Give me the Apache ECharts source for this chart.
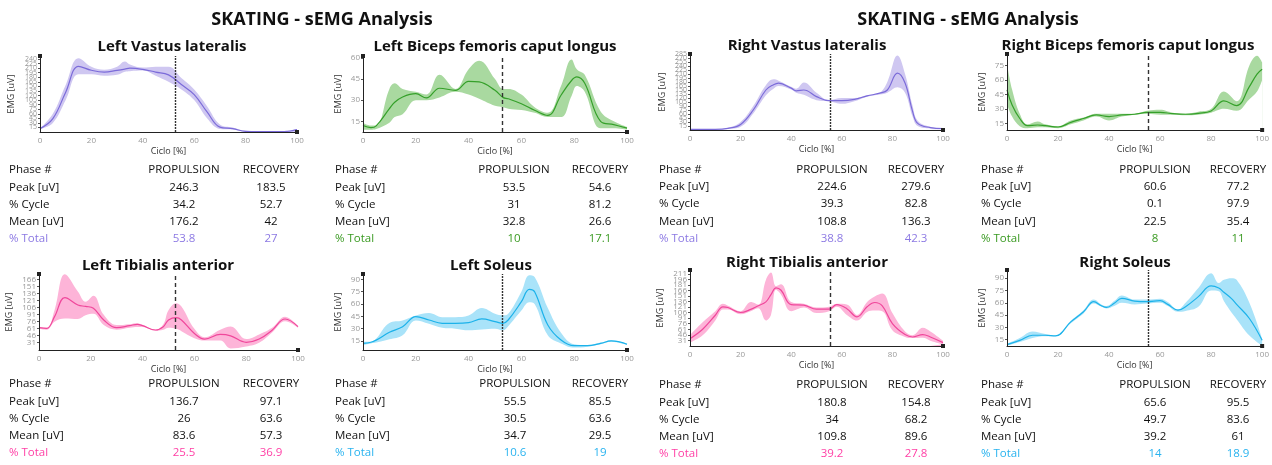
<!DOCTYPE html>
<html>
<head>
<meta charset="utf-8">
<title>SKATING - sEMG Analysis</title>
<script src="https://cdn.jsdelivr.net/npm/echarts@6/dist/echarts.min.js"></script>
<style>
  html, body { margin: 0; padding: 0; background: #fff; }
  #chart { width: 1272px; height: 465px; }
</style>
</head>
<body>
<div id="chart"></div>
<script>
// ---------- data ----------
const rowNames = ['Peak [uV]', '% Cycle', 'Mean [uV]', '% Total'];
const colNames = ['PROPULSION', 'RECOVERY'];
const muscleNames = ['Left Vastus lateralis', 'Left Biceps femoris caput longus', 'Right Vastus lateralis', 'Right Biceps femoris caput longus',
                     'Left Tibialis anterior', 'Left Soleus', 'Right Tibialis anterior', 'Right Soleus'];
const phaseSplit = [52.7, 52.7, 55.5, 55.5, 52.7, 52.7, 55.5, 55.5];

// Left Vastus lateralis
const lvlX    = [0, 5, 10, 15, 20, 25, 30, 33, 35, 40, 45, 50, 55, 60, 65, 70, 75, 80, 85, 90, 95, 100];
const lvlMean = [11, 44, 131, 216, 203, 197, 203, 207, 210, 206, 197, 188, 156, 123, 66, 16, 11, 2, 1, 1, 1, 8];
const lvlLo   = [10, 30, 105, 190, 190, 185, 188, 198, 200, 202, 185, 165, 140, 105, 45, 10, 8, 1, 0.5, 0.5, 0.5, 6];
const lvlHi   = [12, 60, 155, 243, 215, 205, 215, 232, 222, 212, 215, 215, 178, 140, 85, 25, 15, 4, 2, 2, 2, 10];
const lvlTicks = [15, 30, 45, 60, 75, 90, 105, 120, 135, 150, 165, 180, 195, 210, 225, 240];
const lvlStats = [[246.3, 183.5], [34.2, 52.7], [176.2, 42], [53.8, 27]];

// Left Biceps femoris caput longus
const lbfX    = [0, 3, 5, 10, 12, 15, 20, 24, 29, 35, 40, 44, 50, 53, 55, 60, 65, 70, 75, 79, 81, 84, 90, 95, 100];
const lbfMean = [12, 10.5, 11.7, 24, 28.5, 32.3, 34.6, 31.6, 38.5, 37, 43.4, 43, 37, 32, 31, 27.5, 22.8, 19.2, 33.5, 44, 46.5, 42, 15, 12.6, 10.2];
const lbfLo   = [9, 9, 9.5, 14, 18, 20, 30, 30, 32, 36, 34, 31, 26, 25, 24, 23, 21, 18, 18, 33, 40, 36, 10, 10, 9];
const lbfHi   = [14, 12, 12, 38, 42, 38, 36, 34, 48, 38, 52, 58, 45, 38, 38, 34, 25, 21, 40, 59, 52, 48, 22, 15, 11];
const lbfTicks = [15, 30, 45, 60];
const lbfStats = [[53.5, 54.6], [31, 81.2], [32.8, 26.6], [10, 17.1]];

// Right Vastus lateralis
const rvlX    = [0, 10, 15, 20, 25, 30, 33, 35, 40, 42, 45, 50, 55, 60, 65, 70, 75, 78, 82, 85, 88, 90, 95, 100];
const rvlMean = [2.5, 2.5, 6, 21, 75, 150, 170, 176, 157, 147, 150, 125, 110, 110, 115, 128, 138, 150, 213, 176, 69, 25, 9, 5];
const rvlLo   = [2, 2, 4, 12, 62, 130, 155, 165, 152, 140, 132, 112, 108, 98, 108, 125, 133, 140, 160, 140, 50, 15, 6, 4];
const rvlHi   = [3, 3, 8, 30, 90, 168, 190, 185, 162, 155, 178, 140, 112, 120, 120, 130, 140, 180, 279, 210, 90, 35, 12, 5];
const rvlTicks = [15, 30, 45, 60, 75, 90, 105, 120, 135, 150, 165, 180, 195, 210, 225, 240, 255, 270, 285];
const rvlStats = [[224.6, 279.6], [39.3, 82.8], [108.8, 136.3], [38.8, 42.3]];

// Right Biceps femoris caput longus
const rbfX    = [0, 2, 5, 8, 12, 15, 20, 25, 30, 35, 40, 45, 50, 55, 60, 65, 70, 75, 80, 85, 90, 95, 98, 100];
const rbfMean = [49.7, 34, 20, 12.6, 13.3, 12.6, 11.2, 16, 20, 23.7, 22, 23.7, 24.4, 26.4, 26.4, 25, 24.4, 25.4, 27.8, 38.2, 33.4, 53, 66, 71];
const rbfLo   = [35, 22, 12, 10, 11, 11, 10, 14, 18, 22, 18, 22, 24, 25, 24, 24, 23.5, 24, 26, 30, 28, 40, 48, 60];
const rbfHi   = [77, 50, 25, 14, 17, 14, 12, 18, 21, 25, 25, 25, 25, 28, 29, 26, 25, 27, 30, 48, 38, 75, 85, 78];
const rbfTicks = [15, 30, 45, 60, 75];
const rbfStats = [[60.6, 77.2], [0.1, 97.9], [22.5, 35.4], [8, 11]];

// Left Tibialis anterior
const ltaX    = [0, 3, 6, 10, 15, 18, 21, 25, 30, 35, 38, 40, 45, 48, 50, 53, 55, 60, 64, 70, 74, 80, 85, 90, 95, 100];
const ltaMean = [62.4, 61, 86, 126.7, 111, 108, 104, 78.9, 62.4, 66.7, 69.6, 66.7, 57.4, 64.6, 78.9, 84, 79, 50, 38, 48, 45, 31, 38, 57, 81, 64.6];
const ltaLo   = [60, 58, 75, 82, 81, 89, 92, 68, 58, 62, 64, 64, 56, 58, 62, 60, 55, 40, 35, 35, 18, 22, 30, 52, 76, 62];
const ltaHi   = [64, 62, 100, 177, 140, 118, 131, 90, 68, 70, 72, 68, 58, 70, 100, 115, 108, 60, 42, 58, 65, 38, 48, 62, 86, 66];
const ltaTicks = [31, 46, 61, 76, 91, 106, 121, 136, 151, 166];
const ltaStats = [[136.7, 97.1], [26, 63.6], [83.6, 57.3], [25.5, 36.9]];

// Left Soleus
const lsoX    = [0, 3, 5, 10, 15, 20, 25, 30, 35, 40, 45, 50, 53, 55, 60, 63, 65, 70, 75, 80, 85, 90, 94, 100];
const lsoMean = [12, 13.4, 16, 25.5, 32.4, 44.6, 40.5, 36.5, 36.5, 37.3, 41.8, 38.5, 36.5, 40.5, 62.8, 77.8, 75, 34.5, 16.2, 9.3, 9.3, 12, 15, 11];
const lsoLo   = [10, 12, 13, 17, 22, 40, 36, 31, 30, 28, 29, 30, 28, 33, 52, 62, 60, 22, 12, 7, 8, 11, 14, 10];
const lsoHi   = [14, 14, 18, 37, 40, 46, 49, 44, 44, 46, 55, 48, 46, 48, 75, 95, 93, 55, 25, 11, 10, 13, 16, 12];
const lsoTicks = [15, 30, 45, 60, 75, 90];
const lsoStats = [[55.5, 85.5], [30.5, 63.6], [34.7, 29.5], [10.6, 19]];

// Right Tibialis anterior
const rtaX    = [0, 5, 10, 13, 15, 20, 24, 27, 30, 32, 34, 36, 40, 45, 50, 55, 58, 62, 66, 70, 73, 76, 80, 85, 88, 92, 95, 100];
const rtaMean = [35.5, 61, 99, 122, 120, 106.5, 115, 125, 135.5, 155, 173.7, 167, 128, 126.5, 115.5, 115.5, 128, 117, 94.6, 122, 133.7, 124.6, 76.5, 46.5, 40, 46.5, 40, 24.6];
const rtaLo   = [25, 45, 85, 115, 115, 102, 110, 118, 85, 100, 168, 155, 110, 120, 105, 110, 122, 100, 85, 108, 112, 110, 58, 40, 37, 38, 30, 20];
const rtaHi   = [45, 80, 110, 130, 125, 110, 135, 128, 195, 215, 178, 183, 135, 130, 120, 122, 130, 128, 100, 135, 150, 158, 105, 55, 45, 65, 55, 30];
const rtaTicks = [31, 46, 61, 76, 91, 106, 121, 136, 151, 166, 181, 196, 211];
const rtaStats = [[180.8, 154.8], [34, 68.2], [109.8, 89.6], [39.2, 27.8]];

// Right Soleus
const rsoX    = [0, 5, 10, 15, 19, 25, 30, 34, 37, 39, 42, 45, 50, 55, 60, 63, 67, 70, 75, 80, 83, 85, 88, 90, 95, 100];
const rsoMean = [8.8, 14, 20.3, 20.3, 19.5, 36.7, 49, 61.3, 56.4, 54.3, 59.3, 65.4, 62, 61.3, 62.5, 58, 51, 55.2, 67.5, 80.6, 78, 72.8, 65, 58, 40.8, 14.2];
const rsoLo   = [7.5, 12, 17, 19, 19, 35, 47, 59, 55, 53, 56, 60, 58, 59, 60, 56, 49, 50, 55, 75, 74, 62, 48, 40, 20, 7.5];
const rsoHi   = [10, 17, 25, 22, 20, 38, 51, 64, 58, 56, 62, 69, 64, 64, 65, 61, 52, 60, 78, 96, 84, 88, 90, 88, 60, 16];
const rsoTicks = [15, 30, 45, 60, 75, 90];
const rsoStats = [[65.6, 95.5], [49.7, 83.6], [39.2, 61], [14, 18.9]];

// ---------- layout / style ----------
const purple = { line: '#7b6bd9', band: '#cfc7f1', text: '#8c79e3' };
const green  = { line: '#35a02a', band: '#a9d9a0', text: '#3a9a22' };
const pink   = { line: '#f0479b', band: '#fdb4d8', text: '#ff3fa5' };
const blue   = { line: '#1cb2ea', band: '#a9e3f9', text: '#29b3ef' };

const panels = [
  { x: lvlX, mean: lvlMean, lo: lvlLo, hi: lvlHi, ticks: lvlTicks, stats: lvlStats, c: purple, dash: 'dotted',
    grid: [40, 56, 257, 76], yMin: 0, yMax: 250, nameGap: 24, tickFont: 7, titleX: 172, titleY: 47,
    table: { y: 170, x0: 9, x1: 184, x2: 271 } },
  { x: lbfX, mean: lbfMean, lo: lbfLo, hi: lbfHi, ticks: lbfTicks, stats: lbfStats, c: green, dash: 'dashed',
    grid: [363, 56, 264, 76], yMin: 7.4, yMax: 61.4, nameGap: 20, tickFont: 8, titleX: 495, titleY: 47,
    table: { y: 170, x0: 335, x1: 514, x2: 600 } },
  { x: rvlX, mean: rvlMean, lo: rvlLo, hi: rvlHi, ticks: rvlTicks, stats: rvlStats, c: purple, dash: 'dotted',
    grid: [690, 54, 253, 76], yMin: 0, yMax: 285, nameGap: 23, tickFont: 7, titleX: 807, titleY: 46,
    table: { y: 169.5, x0: 659, x1: 832, x2: 916 } },
  { x: rbfX, mean: rbfMean, lo: rbfLo, hi: rbfHi, ticks: rbfTicks, stats: rbfStats, c: green, dash: 'dashed',
    grid: [1007, 54, 257, 76], yMin: 8.1, yMax: 86.8, nameGap: 20, tickFont: 8, titleX: 1128, titleY: 46,
    table: { y: 169.5, x0: 981, x1: 1155, x2: 1238 } },
  { x: ltaX, mean: ltaMean, lo: ltaLo, hi: ltaHi, ticks: ltaTicks, stats: ltaStats, c: pink, dash: 'dashed',
    grid: [39, 274, 259, 76], yMin: 14.6, yMax: 177.4, nameGap: 25, tickFont: 8, titleX: 158, titleY: 266,
    table: { y: 384, x0: 9, x1: 184, x2: 271 } },
  { x: lsoX, mean: lsoMean, lo: lsoLo, hi: lsoHi, ticks: lsoTicks, stats: lsoStats, c: blue, dash: 'dotted',
    grid: [363, 274, 264, 76], yMin: 4, yMax: 96.5, nameGap: 20, tickFont: 8, titleX: 491, titleY: 266,
    table: { y: 384, x0: 335, x1: 515, x2: 600 } },
  { x: rtaX, mean: rtaMean, lo: rtaLo, hi: rtaHi, ticks: rtaTicks, stats: rtaStats, c: pink, dash: 'dashed',
    grid: [690, 270, 253, 76], yMin: 15.5, yMax: 222, nameGap: 25, tickFont: 8, titleX: 807, titleY: 263,
    table: { y: 385, x0: 659, x1: 832, x2: 916 } },
  { x: rsoX, mean: rsoMean, lo: rsoLo, hi: rsoHi, ticks: rsoTicks, stats: rsoStats, c: blue, dash: 'dotted',
    grid: [1007, 270, 258, 76], yMin: 7.2, yMax: 100, nameGap: 20, tickFont: 8, titleX: 1125, titleY: 263,
    table: { y: 385, x0: 981, x1: 1155, x2: 1238 } }
];

const FONT = '"Open Sans", "Noto Sans", sans-serif';
const grids = [], xAxes = [], yAxes = [], series = [], texts = [];

function txt(s, x, y, font, fill, align) {
  texts.push({ type: 'text', x: x, y: y, silent: true,
    style: { text: s, font: font, fill: fill, textAlign: align || 'left', textVerticalAlign: 'middle' } });
}

panels.forEach(function (p, i) {
  grids.push({ left: p.grid[0], top: p.grid[1], width: p.grid[2], height: p.grid[3] });
  xAxes.push({
    type: 'value', gridIndex: i, min: 0, max: 100, interval: 20, z: 5,
    name: 'Ciclo [%]', nameLocation: 'middle', nameGap: 15,
    nameTextStyle: { color: '#333', fontSize: 9, fontFamily: FONT },
    axisLine: { lineStyle: { color: '#222', width: 1 }, symbol: ['none', 'rect'], symbolSize: [4, 4] },
    axisTick: { show: false },
    axisLabel: { color: '#999', fontSize: 8, margin: 5, fontFamily: FONT },
    splitLine: { show: false }
  });
  // the axis min / max get a label slot that is then dropped (showMin/MaxLabel false),
  // so that ECharts keeps every crowded tick label like the original does
  const labelVals = [p.yMin].concat(p.ticks, [p.yMax]);
  yAxes.push({
    type: 'value', gridIndex: i, min: p.yMin, max: p.yMax, z: 5,
    name: 'EMG [uV]', nameLocation: 'middle', nameGap: p.nameGap,
    nameTextStyle: { color: '#333', fontSize: 9, fontFamily: FONT },
    axisLine: { show: true, lineStyle: { color: '#222', width: 1 }, symbol: ['none', 'rect'], symbolSize: [4, 4] },
    axisTick: { show: true, length: 2, customValues: p.ticks, lineStyle: { color: '#555' } },
    axisLabel: { customValues: labelVals, hideOverlap: false, showMinLabel: false, showMaxLabel: false,
                 color: '#999', fontSize: p.tickFont, margin: 3, fontFamily: FONT },
    splitLine: { show: false }
  });

  const lo = p.x.map(function (x, k) { return [x, p.lo[k]]; });
  const hi = p.x.map(function (x, k) { return [x, p.hi[k]]; });
  const mean = p.x.map(function (x, k) { return [x, p.mean[k]]; });

  // band = upper area filled, then lower area masked with white
  series.push({
    type: 'line', xAxisIndex: i, yAxisIndex: i, data: hi,
    smooth: 0.4, symbol: 'none', lineStyle: { opacity: 0 },
    areaStyle: { color: p.c.band, opacity: 1, origin: 'start' }, silent: true, z: 1
  });
  series.push({
    type: 'line', xAxisIndex: i, yAxisIndex: i, data: lo,
    smooth: 0.4, symbol: 'none', lineStyle: { opacity: 0 },
    areaStyle: { color: '#fff', opacity: 1, origin: 'start' }, silent: true, z: 2
  });
  series.push({
    type: 'line', xAxisIndex: i, yAxisIndex: i, data: mean,
    smooth: 0.4, symbol: 'none', lineStyle: { color: p.c.line, width: 1.2 }, z: 3,
    markLine: {
      silent: true, symbol: 'none', label: { show: false },
      lineStyle: { color: '#333', width: 1.4, type: p.dash === 'dotted' ? [2, 1] : [4, 3] },
      data: [{ xAxis: phaseSplit[i] }]
    }
  });

  // panel title
  txt(muscleNames[i], p.titleX, p.titleY, 'bold 15px ' + FONT, '#111', 'center');

  // stats table
  const t = p.table, rowH = 17.3;
  const f = '11.5px ' + FONT;
  txt('Phase #', t.x0, t.y, f, '#111');
  txt(colNames[0], t.x1, t.y, f, '#111', 'center');
  txt(colNames[1], t.x2, t.y, f, '#111', 'center');
  rowNames.forEach(function (r, k) {
    const col = k === 3 ? p.c.text : '#111';
    const y = t.y + rowH * (k + 1);
    txt(r, t.x0, y, f, col);
    txt(String(p.stats[k][0]), t.x1, y, f, col, 'center');
    txt(String(p.stats[k][1]), t.x2, y, f, col, 'center');
  });
});

txt('SKATING - sEMG Analysis', 322, 20, 'bold 18px ' + FONT, '#111', 'center');
txt('SKATING - sEMG Analysis', 968, 20, 'bold 18px ' + FONT, '#111', 'center');

const chart = echarts.init(document.getElementById('chart'));
chart.setOption({
  animation: false,
  backgroundColor: '#fff',
  grid: grids,
  xAxis: xAxes,
  yAxis: yAxes,
  series: series,
  graphic: texts
});
</script>
</body>
</html>
